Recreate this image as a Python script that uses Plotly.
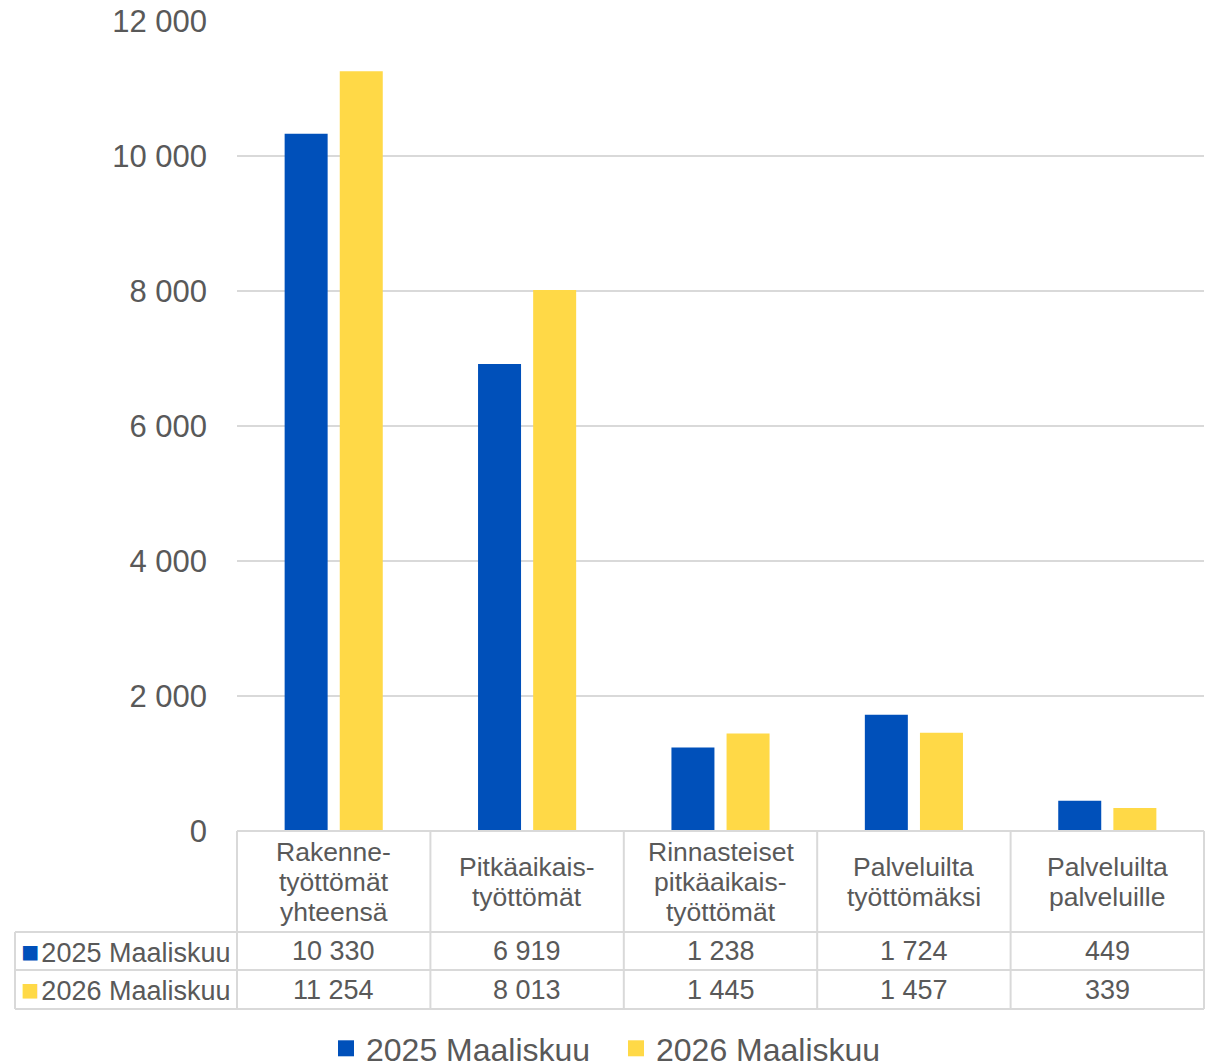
import plotly.graph_objects as go

categories = ["Rakenne-<br>työttömät<br>yhteensä", "Pitkäaikais-<br>työttömät",
              "Rinnasteiset<br>pitkäaikais-<br>työttömät", "Palveluilta<br>työttömäksi",
              "Palveluilta<br>palveluille"]
series_names = ["2025 Maaliskuu", "2026 Maaliskuu"]
values_2025 = [10330, 6919, 1238, 1724, 449]
values_2026 = [11254, 8013, 1445, 1457, 339]
y_ticks = [0, 2000, 4000, 6000, 8000, 10000, 12000]

colors = ["#0050BA", "#FFD947"]
grid = "#D9D9D9"
txt = "#595959"
FONT = "Liberation Sans, Arial, sans-serif"

OFF = 8  # page body margin
W, H = 1215 - OFF, 1062 - OFF
RX0, RX1, RY0, RY1 = 237, 1204, 21, 831
L, T = RX0 - OFF, RY0 - OFF
R, B = W - (RX1 - OFF), H - (RY1 - OFF)
plot_h = H - T - B
plot_w = W - L - R

def fmt(v):
    return f"{v:,}".replace(",", " ")

def py(p):
    return (RY1 - p) / plot_h

def px(p):
    return (p - RX0) / plot_w

fig = go.Figure()
for name, vals, c in zip(series_names, [values_2025, values_2026], colors):
    fig.add_trace(go.Bar(x=list(range(len(categories))), y=vals, name=name,
                         marker=dict(color=c, line=dict(width=0)), showlegend=False))
for name, c in zip(series_names, colors):
    fig.add_trace(go.Scatter(x=[None], y=[None], mode="markers", name=name,
                             marker=dict(symbol="square", size=16, color=c)))

shapes = []
annotations = []
n = len(categories)
line = dict(color=grid, width=2)
for yy in [831, 932, 970, 1009]:
    x0 = RX0 if yy == 831 else 15
    shapes.append(dict(type="line", xref="paper", yref="paper", x0=px(x0), x1=1,
                       y0=py(yy), y1=py(yy), line=line))
for i in range(n + 1):
    xx = i / n
    shapes.append(dict(type="line", xref="paper", yref="paper", x0=xx, x1=xx,
                       y0=py(831), y1=py(1009), line=line))
shapes.append(dict(type="line", xref="paper", yref="paper", x0=px(15), x1=px(15),
                   y0=py(932), y1=py(1009), line=line))

LH = 30
for i, cat in enumerate(categories):
    lines = cat.split("<br>")
    y_start = 882 - LH * (len(lines) - 1) / 2
    for k, ln in enumerate(lines):
        annotations.append(dict(x=i, xref="x", y=py(y_start + k * LH), yref="paper", text=ln,
                                showarrow=False, font=dict(size=26.5, color=txt, family=FONT),
                                xanchor="center", yanchor="middle"))
    for vals, yy in [(values_2025, 951), (values_2026, 990)]:
        annotations.append(dict(x=i, xref="x", y=py(yy), yref="paper", text=fmt(vals[i]),
                                showarrow=False, font=dict(size=27, color=txt, family=FONT),
                                xanchor="center", yanchor="middle"))
for name, c, yy in zip(series_names, colors, [951, 990]):
    annotations.append(dict(x=px(19), xref="paper", y=py(yy), yref="paper",
                            text=(f"<span style='color:{c};font-size:30px'>■</span>"
                                  f"<span style='font-size:8px'> </span>{name}"),
                            showarrow=False, font=dict(size=27, color=txt, family=FONT),
                            xanchor="left", yanchor="middle"))

fig.update_layout(
    width=W, height=H,
    margin=dict(l=L, r=R, t=T, b=B, autoexpand=False),
    paper_bgcolor="white", plot_bgcolor="white",
    font=dict(family=FONT, color=txt),
    separators=". ",
    barmode="group", bargap=0.43, bargroupgap=0.22,
    showlegend=True,
    legend=dict(orientation="h", xref="container", x=(616 - OFF) / W, xanchor="center",
                yref="container", y=1 - (1021 - OFF) / H, yanchor="top",
                font=dict(size=32, color=txt, family=FONT), itemwidth=30,
                entrywidth=245, entrywidthmode="pixels"),
    xaxis=dict(range=[-0.5, n - 0.5], showticklabels=False, showgrid=False,
               zeroline=False, showline=False, ticks=""),
    yaxis=dict(range=[0, 12000], tickvals=y_ticks, tickformat=",d",
               showgrid=True, gridcolor=grid, gridwidth=1.5, zeroline=False,
               showline=False, ticks="", ticklabelstandoff=29,
               ticklabeloverflow="allow",
               tickfont=dict(size=31, color=txt, family=FONT)),
    shapes=shapes, annotations=annotations,
)
fig.write_html("out.html")
